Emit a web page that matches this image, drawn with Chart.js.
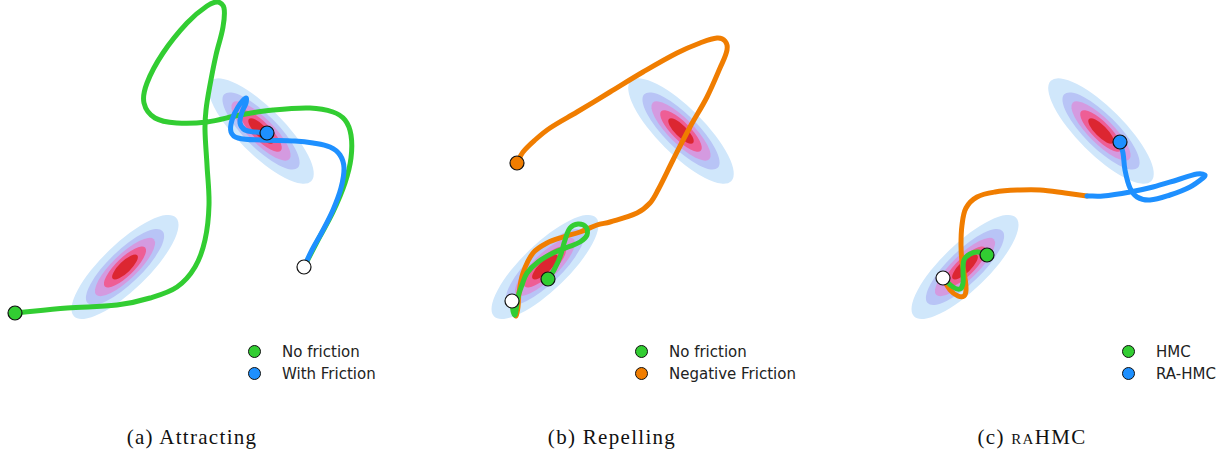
<!DOCTYPE html>
<html>
<head>
<meta charset="utf-8">
<script src="https://cdn.jsdelivr.net/npm/chart.js@4.4.1/dist/chart.umd.min.js"></script>
<style>
  body { margin: 0; background: #fff; }
  #fig { position: relative; width: 1230px; height: 455px; overflow: hidden; }
  .panel { position: absolute; top: 0; width: 390px; height: 340px; }
  .legend { position: absolute; top: 341px; font: 15px "DejaVu Sans", sans-serif; color: #222; }
  .legend div { height: 22px; line-height: 22px; white-space: nowrap; }
  .legend span.dot { display: inline-block; width: 11px; height: 11px; border: 1px solid #111; border-radius: 50%;
                     vertical-align: middle; margin: -3px 21px 0 0; }
  .caption { position: absolute; top: 425px; width: 384px; text-align: center; line-height: 24px;
             font: 21px "Liberation Serif", serif; letter-spacing: 1.3px; color: #111; }
  .sc { font-variant: small-caps; }
</style>
</head>
<body>
<div id="fig">
  <div class="panel" style="left:0px"><canvas id="chartA" width="390" height="340"></canvas></div>
  <div class="panel" style="left:420px"><canvas id="chartB" width="390" height="340"></canvas></div>
  <div class="panel" style="left:840px"><canvas id="chartC" width="390" height="340"></canvas></div>
  <div class="legend" id="legA"></div>
  <div class="legend" id="legB"></div>
  <div class="legend" id="legC"></div>
  <div class="caption" style="left:0px">(a) Attracting</div>
  <div class="caption" style="left:420px">(b) Repelling</div>
  <div class="caption" style="left:840px">(c) <span class="sc">ra</span>HMC</div>
</div>
<script>
// two gaussian modes, same in every panel
const modeCenters = [[261, 131], [125, 267]];
const modeAngles = [45, -44];
const levelSemiMajor = [71, 52, 40, 28, 17];
const levelSemiMinor = [23, 16.5, 12.5, 9, 5.8];
const levelColors = ['#d0e7fb', '#b8c4f6', '#d49ae0', '#ee5e95', '#dc2631'];

const GREEN = '#32cd32', BLUE = '#1e90ff', ORANGE = '#f07d00';

// (a) attracting
const aNoFriction = [[304,267],[318,240],[333,212],[345,183],[351,158],[351,135],[345,120],[333,112],[310,108],
  [273,110],[240,115],[207,122],[177,123],[155,118],[144,103],[147,83],[163,53],[187,23],[207,6],[218,2],[224,8],
  [223,27],[216,55],[210,85],[206,110],[205,130],[207,165],[209,205],[205,240],[195,267],[177,287],[150,298],
  [117,305],[67,308],[15,313]];
const aFriction = [[304,267],[312,250],[322,232],[333,210],[341,188],[344,168],[340,155],[330,147],[313,143],
  [295,141],[262,140],[238,138],[231,132],[232,120],[238,107],[246,98],[246,103],[242,112],[240,123],[245,130],
  [255,132],[267,133]];

// (b) repelling
const bNoFriction = [[92,301],[93,311],[95,315],[98,297],[102,285],[107,273],[118,262],[133,253],[148,247],
  [160,242],[167,235],[166,227],[158,224],[150,228],[145,240],[140,257],[134,270],[128,279]];
const bNegFriction = [[92,301],[94,310],[96,316],[98,307],[99,293],[103,273],[113,253],[127,243],[143,237],
  [160,232],[177,225],[190,222],[217,213],[230,203],[238,190],[253,160],[270,127],[287,97],[300,68],[307,50],
  [305,41],[297,38],[280,43],[257,53],[223,72],[190,92],[157,112],[130,128],[115,140],[103,152],[97,163]];

// (c) raHMC
const cHmc = [[103,278],[113,287],[120,289],[123,283],[123,270],[124,260],[130,254],[138,252],[147,255]];
const cRepel = [[103,278],[110,290],[118,296],[124,296],[126,290],[125,278],[122,262],[121,245],[122,225],
  [126,208],[137,197],[155,192],[180,190],[200,190],[225,193],[247,196]];
const cAttract = [[247,196],[263,196],[290,192],[313,187],[337,180],[357,174],[365,175],[363,178],[350,187],
  [330,195],[310,200],[297,197],[290,188],[285,170],[283,153],[280,142]];

const pts = arr => arr.map(p => ({x: p[0], y: p[1]}));

const contours = {
  id: 'contours',
  beforeDatasetsDraw(chart) {
    const {ctx, scales: {x, y}} = chart;
    const sx = Math.abs(x.getPixelForValue(1) - x.getPixelForValue(0));
    const sy = Math.abs(y.getPixelForValue(1) - y.getPixelForValue(0));
    ctx.save();
    modeCenters.forEach((c, m) => {
      levelSemiMajor.forEach((a, k) => {
        ctx.beginPath();
        ctx.ellipse(x.getPixelForValue(c[0]), y.getPixelForValue(c[1]), a * sx, levelSemiMinor[k] * sy,
          modeAngles[m] * Math.PI / 180, 0, Math.PI * 2);
        ctx.fillStyle = levelColors[k];
        ctx.fill();
      });
    });
    ctx.restore();
  }
};

function line(label, data, color, order) {
  return {label, data: pts(data), showLine: true, borderColor: color, borderWidth: 5, pointRadius: 0,
    tension: 0.35, fill: false, borderCapStyle: 'round', borderJoinStyle: 'round', order, clip: false};
}
function dot(label, p, color, order) {
  return {label, data: pts([p]), showLine: false, pointRadius: 7, pointBackgroundColor: color,
    pointBorderColor: '#111', pointBorderWidth: 1.2, order, clip: false};
}

function makePanel(id, datasets) {
  return new Chart(document.getElementById(id), {
    type: 'scatter',
    data: {datasets},
    options: {
      responsive: false, animation: false, devicePixelRatio: 1,
      layout: {padding: 0, autoPadding: false},
      scales: {
        x: {type: 'linear', min: 0, max: 390, display: false},
        y: {type: 'linear', min: 0, max: 340, reverse: true, display: false}
      },
      plugins: {legend: {display: false}, tooltip: {enabled: false}}
    },
    plugins: [contours]
  });
}

function htmlLegend(id, left, labels, colors) {
  const el = document.getElementById(id);
  el.innerHTML = labels.map((l, i) =>
    '<div><span class="dot" style="background:' + colors[i] + '"></span>' + l + '</div>').join('');
  el.style.left = (left - el.offsetWidth) + 'px';
}

makePanel('chartA', [
  dot('start', aFriction[0], '#fff', 0),
  dot('end friction', aFriction[aFriction.length - 1], BLUE, 1),
  dot('end no friction', aNoFriction[aNoFriction.length - 1], GREEN, 1),
  line('No friction', aNoFriction, GREEN, 3),
  line('With Friction', aFriction, BLUE, 2)
]);
makePanel('chartB', [
  dot('start', bNoFriction[0], '#fff', 0),
  dot('end no friction', bNoFriction[bNoFriction.length - 1], GREEN, 1),
  dot('end negative', bNegFriction[bNegFriction.length - 1], ORANGE, 1),
  line('No friction', bNoFriction, GREEN, 2),
  line('Negative Friction', bNegFriction, ORANGE, 3)
]);
makePanel('chartC', [
  dot('start', cHmc[0], '#fff', 0),
  dot('end HMC', cHmc[cHmc.length - 1], GREEN, 1),
  dot('end RA-HMC', cAttract[cAttract.length - 1], BLUE, 1),
  line('HMC', cHmc, GREEN, 2),
  line('RA-HMC', cAttract, BLUE, 3),
  line('RA-HMC repel', cRepel, ORANGE, 4)
]);

htmlLegend('legA', 376, ['No friction', 'With Friction'], [GREEN, BLUE]);
htmlLegend('legB', 420 + 376, ['No friction', 'Negative Friction'], [GREEN, ORANGE]);
htmlLegend('legC', 840 + 376, ['HMC', 'RA-HMC'], [GREEN, BLUE]);
</script>
</body>
</html>
